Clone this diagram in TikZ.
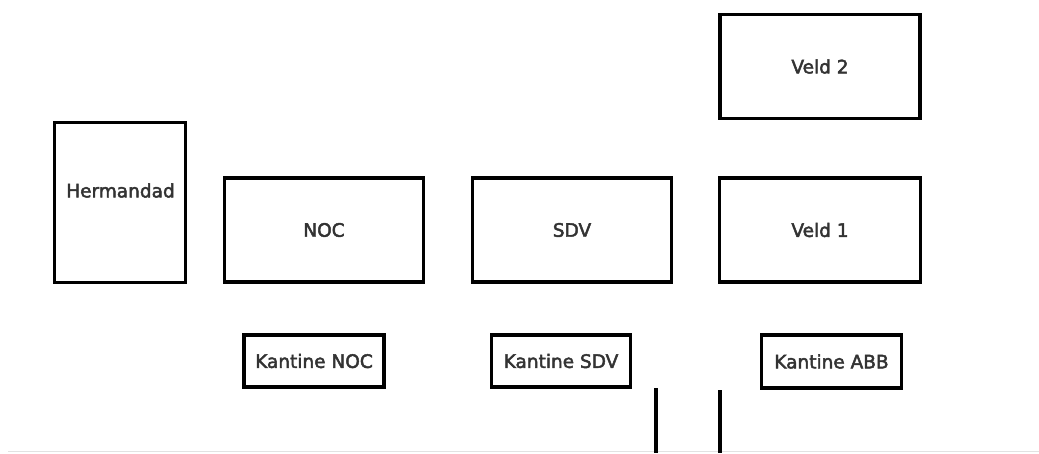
\documentclass[tikz,border=0pt]{standalone}
\usepackage{fontspec}
\setmainfont{DejaVu Sans}
\newfontfamily\lblfont[FakeBold=2.5]{DejaVu Sans}
\definecolor{txtgray}{HTML}{333333}
\definecolor{baseline}{HTML}{E2E2E2}
\begin{document}
\begin{tikzpicture}[x=1pt,y=-1pt,
  roombox/.style={draw=black, line width=3.3pt, rectangle, inner sep=0pt,
    text=txtgray, font=\lblfont\fontsize{18.5}{20}\selectfont},
  bigbox/.style={roombox, minimum width=200pt, minimum height=104pt},
  smallbox/.style={roombox, line width=3.6pt, minimum width=140pt, minimum height=52.5pt},
  wall/.style={draw=black, line width=3.1pt},
  lbl/.style={text=txtgray, font=\lblfont\fontsize{18.5}{20}\selectfont, inner sep=0pt}
]
\useasboundingbox (0,0) rectangle (1039,453);
\fill[white] (0,0) rectangle (1039,453);

% main buildings
\node[bigbox] (veld2) at (820,66.5) {Veld 2};
\node[roombox, minimum width=131pt, minimum height=160pt] (herm) at (120,202.5) {};
\node[lbl] (hermtxt) at (120.5,190.5) {Hermandad};
\node[bigbox, minimum width=199pt] (noc) at (324,230) {NOC};
\node[bigbox, minimum width=199.5pt] (sdv) at (572,230) {SDV};
\node[bigbox, minimum width=201pt] (veld1) at (820,230) {Veld 1};

% canteens
\node[smallbox] (knoc) at (314,361) {Kantine NOC};
\node[smallbox, minimum width=139pt] (ksdv) at (561,361) {Kantine SDV};
\node[smallbox] (kabb) at (831.5,361.5) {Kantine ABB};

% entrance walls and ground line
\coordinate (wa1) at (656,388);
\coordinate (wa2) at (656,453);
\coordinate (wb1) at (720,390);
\coordinate (wb2) at (720,453);
\coordinate (g1) at (8,451.5);
\coordinate (g2) at (1039,451.5);
\draw[draw=baseline, line width=1.5pt] (g1) -- (g2);
\draw[wall] (wa1) -- (wa2);
\draw[wall] (wb1) -- (wb2);
\end{tikzpicture}
\end{document}
